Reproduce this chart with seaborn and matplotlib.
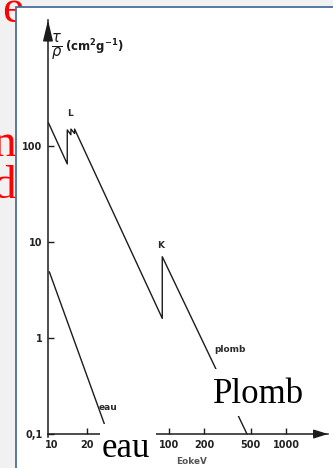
import matplotlib
matplotlib.use("Agg")
import matplotlib.pyplot as plt
from matplotlib.patches import Rectangle
from matplotlib.ticker import NullLocator
import seaborn as sns

# Mass attenuation coefficient tau/rho (cm^2 g^-1) versus photon energy (keV)
lead_energy = [9.33, 13.5, 13.5, 14.5, 14.5, 15.6, 15.6, 87.6, 87.6, 464]
lead_tau = [174, 65, 147, 131, 150, 135, 150, 1.60, 7.03, 0.1]
water_energy = [9.48, 30.1]
water_tau = [4.9, 0.1]

y_ticks = [0.1, 1, 10, 100]
y_tick_labels = ["0,1", "1", "10", "100"]
x_ticks = [10, 20, 100, 200, 500, 1000]
x_tick_labels = ["10", "20", "100", "200", "500", "1000"]

W, H, DPI = 333, 468, 100
INK = "#1c1c1c"

sns.set_theme(style="white")
plt.rcParams["font.family"] = ["DejaVu Sans"]

fig = plt.figure(figsize=(W / DPI, H / DPI), dpi=DPI, facecolor="#f1f1f1")


def fx(px):
    return px / W


def fy(py):
    return 1 - py / H


# slide text peeking out from behind the panel
red_kw = dict(color="#ff0000", fontsize=34, family=["Liberation Serif"],
              va="baseline", ha="left", zorder=0.5)
fig.text(fx(2), fy(22), "e", **red_kw)
fig.text(fx(-7), fy(156), "n", **red_kw)
fig.text(fx(-8), fy(198), "d", **red_kw)

# white panel with its blue frame
panel = Rectangle((fx(16), fy(490)), 1.2, fy(7) - fy(490),
                  transform=fig.transFigure, facecolor="white",
                  edgecolor="#4a6d9c", linewidth=1.3, zorder=1)
fig.add_artist(panel)

ax = fig.add_axes([fx(48), fy(437), fx(328) - fx(48), fy(20) - fy(437)])
ax.set_zorder(2)
ax.patch.set_alpha(0)
ax.set_xscale("log")
ax.set_yscale("log")

sns.lineplot(x=lead_energy, y=lead_tau, sort=False, estimator=None,
             color=INK, linewidth=1.0, ax=ax)
sns.lineplot(x=water_energy, y=water_tau, sort=False, estimator=None,
             color=INK, linewidth=1.0, ax=ax)

ax.set_xlim(9.24, 2286)
ax.set_ylim(0.0931, 2053)

for side in ("top", "right"):
    ax.spines[side].set_visible(False)
ax.spines["bottom"].set_position(("data", 0.1))
for side in ("left", "bottom"):
    ax.spines[side].set_color(INK)
    ax.spines[side].set_linewidth(1.1)

# arrow heads at the ends of both axes
ax.annotate("", xy=(0, 1), xytext=(0, 0.95), xycoords="axes fraction",
            arrowprops=dict(arrowstyle="-|>,head_length=1.05,head_width=0.25",
                            color=INK, lw=1.1, shrinkA=0, shrinkB=0),
            annotation_clip=False)
ax.annotate("", xy=(1, 0.1), xytext=(0.95, 0.1),
            xycoords=ax.get_yaxis_transform(),
            arrowprops=dict(arrowstyle="-|>,head_length=0.7,head_width=0.22",
                            color=INK, lw=1.1, shrinkA=0, shrinkB=0),
            annotation_clip=False)

ax.set_xticks(x_ticks)
ax.set_xticklabels(x_tick_labels, fontweight="bold")
ax.set_yticks(y_ticks)
ax.set_yticklabels(y_tick_labels, fontweight="bold")
ax.xaxis.set_minor_locator(NullLocator())
ax.yaxis.set_minor_locator(NullLocator())
ax.tick_params(axis="both", which="major", direction="in", length=4,
               width=1.0, color=INK, labelsize=7, labelcolor="#222222",
               pad=4, bottom=True, left=True)
ax.xaxis.get_major_ticks()[0].tick1line.set_visible(False)
ax.set_xlabel("")
ax.set_ylabel("")

# axis titles and curve annotations
fig.text(fx(57), fy(47), r"$\frac{\tau}{\rho}$", fontsize=15,
         ha="center", va="center", color=INK, zorder=3)
fig.text(fx(65), fy(47), r"(cm$^\mathbf{2}$g$^\mathbf{-1}$)", fontsize=8.5,
         fontweight="bold", ha="left", va="center", color=INK, zorder=3)
fig.text(fx(192), fy(461.5), "EokeV", fontsize=6.4, fontweight="bold",
         ha="center", va="center", color="#555555", zorder=3)

small_kw = dict(fontsize=6.5, fontweight="bold", ha="center", va="center",
                color="#2a2a2a", zorder=3)
fig.text(fx(70.5), fy(113.5), "L", **small_kw)
fig.text(fx(160.5), fy(245), "K", **small_kw)
fig.text(fx(230), fy(350), "plomb", **small_kw)
fig.text(fx(108), fy(407.5), "eau", **small_kw)

# large captions on white boxes
for (x0, y0, x1, y1) in [(206, 369, 310, 416), (100, 424, 156, 475)]:
    fig.add_artist(Rectangle((fx(x0), fy(y1)), fx(x1) - fx(x0), fy(y0) - fy(y1),
                             transform=fig.transFigure, facecolor="white",
                             edgecolor="none", zorder=3))
big_kw = dict(fontsize=25, family=["Liberation Serif"], ha="left",
              va="baseline", color="black", zorder=4)
fig.text(fx(213), fy(403), "Plomb", **big_kw)
fig.text(fx(102), fy(457), "eau", **big_kw)

fig.savefig("out.png", dpi=DPI, facecolor=fig.get_facecolor())
